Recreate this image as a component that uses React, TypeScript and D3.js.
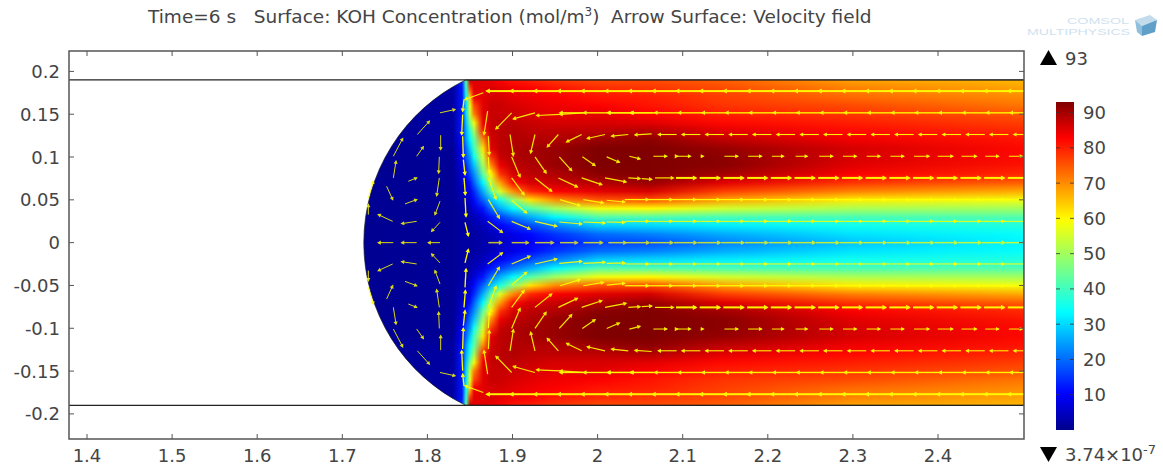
import React from "react";
import * as d3 from "d3";

const WIDTH = 1163;
const HEIGHT = 464;

const X_TICKS = [1.4, 1.5, 1.6, 1.7, 1.8, 1.9, 2, 2.1, 2.2, 2.3, 2.4];
const Y_TICKS = [0.2, 0.15, 0.1, 0.05, 0, -0.05, -0.1, -0.15, -0.2];
const BAR_TICKS = [10, 20, 30, 40, 50, 60, 70, 80, 90];
const C_MIN = 0;
const C_MAX = 93;

// geometry of the domain, in model units
const WALL_Y = 0.19;
const DOME_END = 1.845;
const DOME_RADIUS = 0.2125;

// KOH concentration. Rows are y = 0, 0.01 ... 0.19 (the lower half mirrors them)
const CONC_ROWS = d3.range(20).map((k) => k / 100);
const CONC_X = [1.7, 1.83, 1.8403, 1.845, 1.85, 1.855, 1.865, 1.875, 1.885, 1.9, 1.92, 1.95, 2.0, 2.06, 2.15, 2.3, 2.51];
const CONC_COLUMNS = [
  [0.5, 0.5, 0.5, 0.5, 0.5, 0.5, 0.5, 0.5, 0.5, 0.5, 0.5, 0.5, 0.5, 0.5, 0.5, 0.5, 0.5, 0.5, 0.5, 0.5],
  [1, 1, 1, 1, 1, 1, 1, 1, 1, 1, 1, 1, 2, 2, 2, 2, 2, 2, 2, 2],
  [2, 2, 2, 2, 2, 3, 4, 5, 6, 7, 9, 10, 11, 12, 12, 12, 12, 12, 12, 14],
  [2, 2, 2, 2, 3, 4, 6, 8, 11, 14, 18, 20, 24, 26, 28, 30, 31, 33, 38, 42],
  [2, 2, 2, 3, 4, 6, 8, 12, 17, 21, 24, 29, 33, 37, 46, 54, 57, 64, 76, 88],
  [2, 2, 3, 4, 7, 11, 14, 19, 23, 28, 35, 40, 43, 50, 58, 71, 76, 84, 85, 85],
  [3, 3, 4, 7, 12, 19, 26, 33, 43, 50, 55, 62, 70, 80, 84, 85, 85, 85, 85, 85],
  [3, 4, 7, 12, 20, 28, 42, 52, 60, 70, 78, 85, 86, 87, 87, 87, 87, 86, 86, 84],
  [5, 6, 10, 16, 26, 36, 56, 68, 78, 84, 87, 88, 88, 88, 88, 87, 87, 86, 85, 83],
  [7, 8, 13, 21, 33, 48, 70, 82, 86, 88, 89, 89, 89, 89, 88, 87, 86, 85, 84, 81],
  [9, 11, 17, 26, 42, 62, 79, 86, 88, 89, 90, 90, 89, 88, 87, 86, 85, 84, 83, 80],
  [12, 15, 22, 33, 50, 70, 83, 87, 89, 91, 91, 91, 89, 88, 86, 85, 84, 83, 81, 78],
  [16, 20, 29, 42, 58, 75, 85, 89, 92, 93, 93, 93, 91, 88, 86, 85, 83, 81, 79, 76],
  [17, 22, 30, 42, 60, 76, 86, 91, 93, 93, 93, 93, 92, 89, 85, 83, 81, 80, 78, 76],
  [22, 26, 32, 41, 55, 68, 77, 85, 90, 92, 92, 91, 88, 85, 82, 80, 78, 77, 76, 74],
  [28, 31, 35, 41, 51, 61, 71, 78, 83, 85, 86, 86, 84, 82, 80, 78, 76, 73, 71, 68],
  [33, 34, 37, 42, 50, 58, 67, 74, 79, 81, 82, 82, 81, 79, 77, 75, 72, 70, 68, 66],
];

// straight rows of velocity arrows in the channel (upper half, mirrored below)
const ROW_Y = [0.177, 0.1516, 0.1263, 0.1009, 0.0756, 0.0503, 0.0249, 0];
const ROW_FIRST_TAIL = [1.8975, 1.9836, 2.0929, 2.0655, 2.0921, 2.0318, 2.0318, 2.0338];
const ROW_LENGTH = [0.0278, 0.0278, 0.0215, 0.0157, 0.0235, 0.0278, 0.0278, 0.0265];
const ROW_DIRECTION = [-1, -1, -1, 1, 1, 1, 1, 1];
const ROW_STROKE = [2, 1.4, 1.1, 1, 2, 1.3, 1, 1.5];
const ARROW_STEP = 0.02785;
// row y=0.1 slows down near the vortex centre
const SLOW_ROW_LENGTHS = [0.0157, 0.0157, 0.003, 0.0157, 0.0157, 0.0137, 0.0137, 0.0157, 0.0157, 0.0157, 0.0157, 0.0176, 0.0176, 0.0176, 0.0157, 0.0157];

// individual arrows around the vortex and in the dome: x tail, y tail, x tip, y tip
const DOME_ARROWS = [
  [1.8148, 0.1516, 1.8324, 0.1555],
  [1.7882, 0.1263, 1.8023, 0.1419],
  [1.76, 0.1009, 1.7709, 0.1216],
  [1.8156, 0.1255, 1.8156, 0.1087],
  [1.7874, 0.1009, 1.7952, 0.1119],
  [1.76, 0.0756, 1.7631, 0.0951],
  [1.814, 0.1002, 1.8132, 0.0814],
  [1.7776, 0.0717, 1.7874, 0.0756],
  [1.7521, 0.0658, 1.7592, 0.0503],
  [1.814, 0.0756, 1.8109, 0.0549],
  [1.7737, 0.0452, 1.7874, 0.0503],
  [1.7306, 0.0522, 1.7365, 0.0717],
  [1.8148, 0.0483, 1.8089, 0.0327],
  [1.7592, 0.0249, 1.7423, 0.0327],
  [1.7874, 0.0249, 1.7698, 0.0222],
  [1.8148, 0.0237, 1.805, 0.0132],
  [1.7306, 0.0327, 1.7306, 0.0444],
  [1.76, 0, 1.7423, 0],
  [1.7874, 0, 1.7698, 0],
  [1.8148, 0, 1.8011, 0],
];

const WALL_ARROWS = [
  [1.843, 0.1672, 1.8414, 0.1536],
  [1.8414, 0.1497, 1.8403, 0.1263],
  [1.8414, 0.1243, 1.8422, 0.1002],
  [1.8422, 0.097, 1.8442, 0.0795],
  [1.843, 0.0756, 1.8446, 0.0561],
  [1.8442, 0.0522, 1.8454, 0.0308],
  [1.8442, 0.0237, 1.8481, 0.0081],
];

const VORTEX_ARROWS = [
  [1.8657, 0.175, 1.8442, 0.1672],
  [1.899, 0.1516, 1.8806, 0.1329],
  [1.9264, 0.1516, 1.901, 0.1446],
  [1.8708, 0.1536, 1.8665, 0.1263],
  [1.8716, 0.1243, 1.8728, 0.1029],
  [1.8716, 0.1, 1.8728, 0.0814],
  [1.8716, 0.0756, 1.8806, 0.051],
  [1.8716, 0.0503, 1.8845, 0.0288],
  [1.8708, 0.0249, 1.8881, 0.012],
  [1.8971, 0.1263, 1.901, 0.1017],
  [1.899, 0.1002, 1.9088, 0.0768],
  [1.899, 0.0756, 1.9135, 0.0561],
  [1.899, 0.0495, 1.9166, 0.0347],
  [1.899, 0.0249, 1.9206, 0.0159],
  [1.9264, 0.1263, 1.9213, 0.1048],
  [1.9539, 0.1263, 1.9409, 0.1119],
  [1.9813, 0.1263, 1.9636, 0.1177],
  [2.0087, 0.1263, 1.9879, 0.1216],
  [2.0361, 0.1263, 2.0165, 0.1243],
  [2.0635, 0.1271, 2.0439, 0.1259],
  [1.9264, 0.1002, 1.9394, 0.0814],
  [1.955, 0.1002, 1.9695, 0.0842],
  [1.9821, 0.1002, 1.9969, 0.09],
  [2.0107, 0.1002, 2.0255, 0.0939],
  [2.0373, 0.1009, 2.0498, 0.0978],
  [1.9264, 0.0756, 1.946, 0.06],
  [1.9539, 0.0756, 1.9762, 0.0651],
  [1.9813, 0.0756, 2.0048, 0.0678],
  [2.0087, 0.0756, 2.0334, 0.0709],
  [2.0361, 0.0756, 2.0498, 0.0748],
  [2.0518, 0.0748, 2.0635, 0.074],
  [2.0675, 0.0756, 2.089, 0.0756],
  [1.9558, 0.0503, 1.9793, 0.0432],
  [1.9832, 0.0503, 2.0067, 0.0464],
  [2.0107, 0.0495, 2.0318, 0.0475],
  [1.9264, 0.0249, 1.9519, 0.0191],
  [1.955, 0.0241, 1.9813, 0.0218],
  [1.9832, 0.0241, 2.0087, 0.023],
  [2.0107, 0.0241, 2.0318, 0.0237],
  [1.9836, 0.1516, 1.9558, 0.1497],
  [1.9558, 0.1497, 1.9284, 0.1485],
  [2.0381, 0.1516, 2.0126, 0.1516],
  [2.0655, 0.1516, 2.0381, 0.1516],
  [2.0914, 0.1009, 2.0938, 0.1009],
];

const CENTRE_ARROWS = [
  [1.8716, 0, 1.8873, 0],
  [1.899, 0, 1.9186, 0],
  [1.9264, 0, 1.948, 0],
  [1.9558, 0, 1.9762, 0],
  [1.9832, 0, 2.0056, 0],
  [2.0126, 0, 2.0334, 0],
];

const xScale = d3.scaleLinear().domain([1.4, 2.4]).range([87, 938]);
const yScale = d3.scaleLinear().domain([0.2, -0.2]).range([71.4, 413.9]);
const barScale = d3.scaleLinear().domain([C_MIN, C_MAX]).range([430, 102]);

const FRAME = { left: 69, right: 1024, top: 51, bottom: 439 };

// rainbow table as COMSOL draws it
const jet = d3
  .scaleLinear<string>()
  .domain([0, 0.11, 0.36, 0.64, 0.89, 1].map((t) => t * C_MAX))
  .range(["#00008c", "#0000ff", "#00ffff", "#ffff00", "#ff0000", "#800000"])
  .interpolate(d3.interpolateRgb);

const FONT = "'DejaVu Sans', sans-serif";
const INK = "#444";
const TICK_SIZE = 18;

type Arrow = { x1: number; y1: number; x2: number; y2: number; w: number; o: number };

function buildArrows(): Arrow[] {
  const out: Arrow[] = [];
  const add = (a: number[], w: number, o = 1) => {
    out.push({ x1: a[0], y1: a[1], x2: a[2], y2: a[3], w, o });
    if (a[1] !== 0 || a[3] !== 0) out.push({ x1: a[0], y1: -a[1], x2: a[2], y2: -a[3], w, o });
  };
  DOME_ARROWS.forEach((a) => add(a, 1, 0.85));
  WALL_ARROWS.forEach((a) => add(a, 1.3));
  VORTEX_ARROWS.forEach((a) => add(a, 1.2, 0.9));
  CENTRE_ARROWS.forEach((a) => add(a, 1.5, 0.75));
  ROW_Y.forEach((y, r) => {
    const count = Math.ceil((2.52 - ROW_FIRST_TAIL[r]) / ARROW_STEP);
    d3.range(count).forEach((i) => {
      const tail = ROW_FIRST_TAIL[r] + i * ARROW_STEP;
      const len = r === 3 ? SLOW_ROW_LENGTHS[i] ?? 0.0157 : ROW_LENGTH[r];
      add([tail, y, tail + ROW_DIRECTION[r] * len, y], ROW_STROKE[r], r === 7 ? 0.75 : 0.95);
    });
  });
  return out;
}

function ArrowMark({ a }: { a: Arrow }) {
  const px1 = xScale(a.x1);
  const py1 = yScale(a.y1);
  const px2 = xScale(a.x2);
  const py2 = yScale(a.y2);
  const angle = (Math.atan2(py2 - py1, px2 - px1) * 180) / Math.PI;
  const s = 0.65 + a.w * 0.2;
  return (
    <g opacity={a.o}>
      <line x1={px1} y1={py1} x2={px2} y2={py2} stroke="#ffff00" strokeWidth={a.w} />
      <path
        d="M1.5,0 L-3,-2.4 L-3,2.4 Z"
        fill="#ffff00"
        transform={`translate(${px2},${py2}) rotate(${angle}) scale(${s})`}
      />
    </g>
  );
}

export default function App() {
  const colX = CONC_X.map((v) => Math.round(xScale(v)));
  const top = yScale(WALL_Y);
  const bottom = yScale(-WALL_Y);
  const domeEnd = xScale(DOME_END);
  const radius = xScale(DOME_RADIUS) - xScale(0);
  const outline = `M${domeEnd},${top} A${radius},${radius} 0 0 0 ${domeEnd},${bottom} L${FRAME.right},${bottom} L${FRAME.right},${top} Z`;
  const arrows = buildArrows();
  const barStops = d3.range(0, C_MAX + 0.5, 1);

  return (
    <svg
      width={WIDTH}
      height={HEIGHT}
      viewBox={`0 0 ${WIDTH} ${HEIGHT}`}
      style={{ position: "absolute", left: 0, top: 0, display: "block", background: "#fff" }}
      fontFamily={FONT}
    >
      <defs>
        <clipPath id="domain">
          <path d={outline} />
        </clipPath>
        <clipPath id="frame">
          <rect x={FRAME.left} y={FRAME.top} width={FRAME.right - FRAME.left} height={FRAME.bottom - FRAME.top} />
        </clipPath>
        <filter id="soft" x="-5%" y="-5%" width="110%" height="110%">
          <feGaussianBlur stdDeviation={0.4} />
        </filter>
        {CONC_COLUMNS.map((col, c) => (
          <linearGradient key={c} id={`col-${c}`} gradientUnits="userSpaceOnUse" x1={0} x2={0} y1={top} y2={bottom}>
            {CONC_ROWS.slice()
              .reverse()
              .map((y, k) => (
                <stop key={`t${k}`} offset={(yScale(y) - top) / (bottom - top)} stopColor={jet(col[19 - k])} />
              ))}
            {CONC_ROWS.slice(1).map((y, k) => (
              <stop key={`b${k}`} offset={(yScale(-y) - top) / (bottom - top)} stopColor={jet(col[k + 1])} />
            ))}
          </linearGradient>
        ))}
        <linearGradient id="fadeRamp" x1={0} x2={1} y1={0} y2={0}>
          <stop offset={0} stopColor="#000" />
          <stop offset={1} stopColor="#fff" />
        </linearGradient>
        <mask id="fade" maskContentUnits="objectBoundingBox">
          <rect width={1} height={1} fill="url(#fadeRamp)" />
        </mask>
        <linearGradient id="barRamp" x1={0} x2={0} y1={1} y2={0}>
          {barStops.map((v) => (
            <stop key={v} offset={v / C_MAX} stopColor={jet(v)} />
          ))}
        </linearGradient>
      </defs>

      <text x={148} y={23} fontSize={18.5} fill={INK} xmlSpace="preserve">
        {"Time=6 s   Surface: KOH Concentration (mol/m"}
        <tspan fontSize={12} dy={-7}>3</tspan>
        <tspan dy={7}>{")  Arrow Surface: Velocity field"}</tspan>
      </text>

      {/* logo */}
      <g fill="#cfe2ef" fontFamily="'Liberation Sans', sans-serif">
        <text x={1067} y={24} fontSize={9.5} textLength={62} lengthAdjust="spacingAndGlyphs">COMSOL</text>
        <text x={1027} y={35} fontSize={9.5} textLength={103} lengthAdjust="spacingAndGlyphs">MULTIPHYSICS</text>
      </g>
      <g>
        <path d="M1135,20 L1150,15 L1157,20 L1142,26 Z" fill="#c3dcec" />
        <path d="M1135,20 L1142,26 L1142,36 L1137,32 Z" fill="#8fbfdc" />
        <path d="M1142,26 L1157,20 L1155,32 L1142,36 Z" fill="#5f9fc8" />
      </g>

      {/* concentration surface */}
      <g clipPath="url(#domain)">
        {CONC_COLUMNS.slice(0, -1).map((_, c) => (
          <g key={c}>
            <rect x={colX[c]} y={top} width={colX[c + 1] - colX[c]} height={bottom - top} fill={`url(#col-${c})`} />
            <rect
              x={colX[c]}
              y={top}
              width={colX[c + 1] - colX[c]}
              height={bottom - top}
              fill={`url(#col-${c + 1})`}
              mask="url(#fade)"
            />
          </g>
        ))}
      </g>
      <path d={outline} fill="none" stroke="#222" strokeWidth={0.7} clipPath="url(#frame)" />

      {/* walls */}
      <line x1={FRAME.left} x2={FRAME.right} y1={top} y2={top} stroke="#222" strokeWidth={1.2} />
      <line x1={FRAME.left} x2={FRAME.right} y1={bottom} y2={bottom} stroke="#222" strokeWidth={1.2} />

      {/* velocity arrows */}
      <g clipPath="url(#frame)">
        <g filter="url(#soft)">
          {arrows.map((a, i) => (
            <ArrowMark key={i} a={a} />
          ))}
        </g>
      </g>

      {/* axes */}
      <rect
        x={FRAME.left}
        y={FRAME.top}
        width={FRAME.right - FRAME.left}
        height={FRAME.bottom - FRAME.top}
        fill="none"
        stroke="#555"
        strokeWidth={1.5}
      />
      {X_TICKS.map((t) => (
        <g key={t}>
          <line x1={xScale(t)} x2={xScale(t)} y1={FRAME.bottom} y2={FRAME.bottom - 5} stroke="#555" strokeWidth={1} />
          <line x1={xScale(t)} x2={xScale(t)} y1={FRAME.top} y2={FRAME.top + 5} stroke="#555" strokeWidth={1} />
          <text x={xScale(t)} y={461.5} textAnchor="middle" fontSize={TICK_SIZE} fill={INK}>
            {t}
          </text>
        </g>
      ))}
      {Y_TICKS.map((t) => (
        <g key={t}>
          <line x1={FRAME.left} x2={FRAME.left + 5} y1={yScale(t)} y2={yScale(t)} stroke="#555" strokeWidth={1} />
          <line x1={FRAME.right} x2={FRAME.right - 5} y1={yScale(t)} y2={yScale(t)} stroke="#555" strokeWidth={1} />
          <text x={60} y={yScale(t) + 6.5} textAnchor="end" fontSize={TICK_SIZE} fill={INK}>
            {t}
          </text>
        </g>
      ))}

      {/* colour bar */}
      <rect x={1056} y={102} width={18} height={328} fill="url(#barRamp)" />
      {BAR_TICKS.map((t) => (
        <g key={t}>
          <line x1={1056} x2={1060} y1={barScale(t)} y2={barScale(t)} stroke="#333" strokeWidth={0.8} />
          <line x1={1074} x2={1070} y1={barScale(t)} y2={barScale(t)} stroke="#333" strokeWidth={0.8} />
          <text x={1083} y={barScale(t) + 6.5} fontSize={TICK_SIZE} fill={INK}>
            {t}
          </text>
        </g>
      ))}

      {/* max and min markers */}
      <path d="M1040,65 L1057,65 L1048.5,50 Z" fill="#000" />
      <text x={1065} y={65} fontSize={TICK_SIZE} fill={INK}>{C_MAX}</text>
      <path d="M1040,447 L1057,447 L1048.5,462 Z" fill="#000" />
      <text x={1065} y={461} fontSize={TICK_SIZE} fill={INK}>
        3.74×10
        <tspan fontSize={13} dy={-7}>-7</tspan>
      </text>
    </svg>
  );
}
